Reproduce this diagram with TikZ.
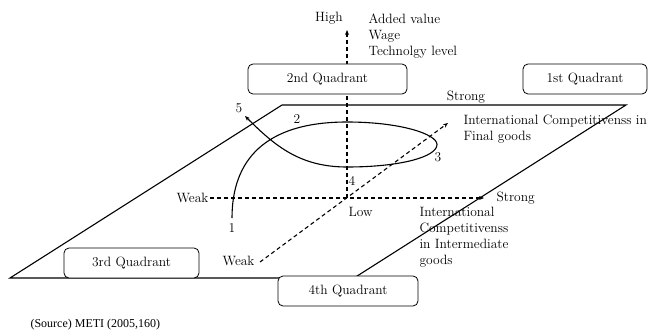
\documentclass[tikz,border=0pt]{standalone}
\usepackage{fontspec}
\usepackage{tikz}
\usetikzlibrary{arrows.meta, positioning}
\newfontfamily\srcfont{Liberation Serif}

\begin{document}
\begin{tikzpicture}[x=1pt, y=-1pt, line width=1.1pt,
        txt/.style={font=\fontsize{13.5}{16}\selectfont, inner sep=1pt},
        quadbox/.style={draw, rounded corners=5pt, fill=white, line width=0.8pt, minimum height=30pt, font=\fontsize{13.5}{16}\selectfont},
        axis/.style={dash pattern=on 4pt off 3pt, line width=1.1pt},
        tip/.style={-{Stealth[length=5pt, width=4pt]}}]
        \useasboundingbox (0,0) rectangle (655,334);

        % Plane
        \coordinate (P1) at (10,278);
        \coordinate (P2) at (282,105);
        \coordinate (P3) at (626,105);
        \coordinate (P4) at (354,278);
        \draw (P1) -- (P2) -- (P3) -- (P4) -- cycle;

        % Axes
        \coordinate (O) at (347,198);
        \coordinate (ytop) at (347,30);
        \draw[axis, tip] (O) -- (ytop);
        \node[txt, anchor=east] (weakx) at (210,198) {Weak};
        \coordinate (xend) at (484,198);
        \draw[axis, tip] (weakx.east) -- (xend);
        \coordinate (zstart) at (260,262);
        \coordinate (zend) at (448,123);
        \draw[axis, tip] (zstart) -- (zend);

        % Axis labels
        \node[txt] (high) at (329,18) {High};
        \node[txt, anchor=north west, align=left] (vlabel) at (367,12) {Added value\\Wage\\Technolgy level};
        \node[txt, anchor=west] (strongx) at (495,198) {Strong};
        \node[txt, anchor=west] (low) at (347,212) {Low};
        \node[txt, anchor=east] (weakz) at (256,261) {Weak};
        \node[txt] (strongz) at (466,97) {Strong};
        \node[txt, anchor=north west, align=left] (final) at (462,113) {International Competitivenss in\\Final goods};
        \node[txt, anchor=north west, align=left] (inter) at (418,206) {International\\Competitivenss\\in Intermediate\\goods};

        % Path 1-5
        \coordinate (c1) at (232,218);
        \coordinate (c2) at (347,122);
        \coordinate (c3) at (437,144.5);
        \coordinate (c4) at (347,167);
        \coordinate (c5) at (245,116);
        \draw[tip] (c1) .. controls (232,160) and (265,122) .. (c2)
            .. controls (400,122) and (437,134) .. (c3)
            .. controls (437,157) and (400,167) .. (c4)
            .. controls (300,167) and (275,146) .. (c5);
        \node[txt] (n1) at (232,228) {1};
        \node[txt] (n2) at (297,119) {2};
        \node[txt] (n3) at (438,157) {3};
        \node[txt] (n4) at (352,181) {4};
        \node[txt] (n5) at (239,108) {5};

        % Quadrants
        \node[quadbox, minimum width=159pt] (q2) at (327.5,79) {2nd Quadrant};
        \node[quadbox, minimum width=124pt] (q1) at (585,79) {1st Quadrant};
        \node[quadbox, minimum width=135pt] (q3) at (131.5,263) {3rd Quadrant};
        \node[quadbox, minimum width=140pt] (q4) at (348,291) {4th Quadrant};

        % Source
        \node[anchor=west, font=\srcfont\fontsize{12}{14}\selectfont, inner sep=0pt] (src) at (30,325) {(Source) METI (2005,160)};
    \end{tikzpicture}
\end{document}
